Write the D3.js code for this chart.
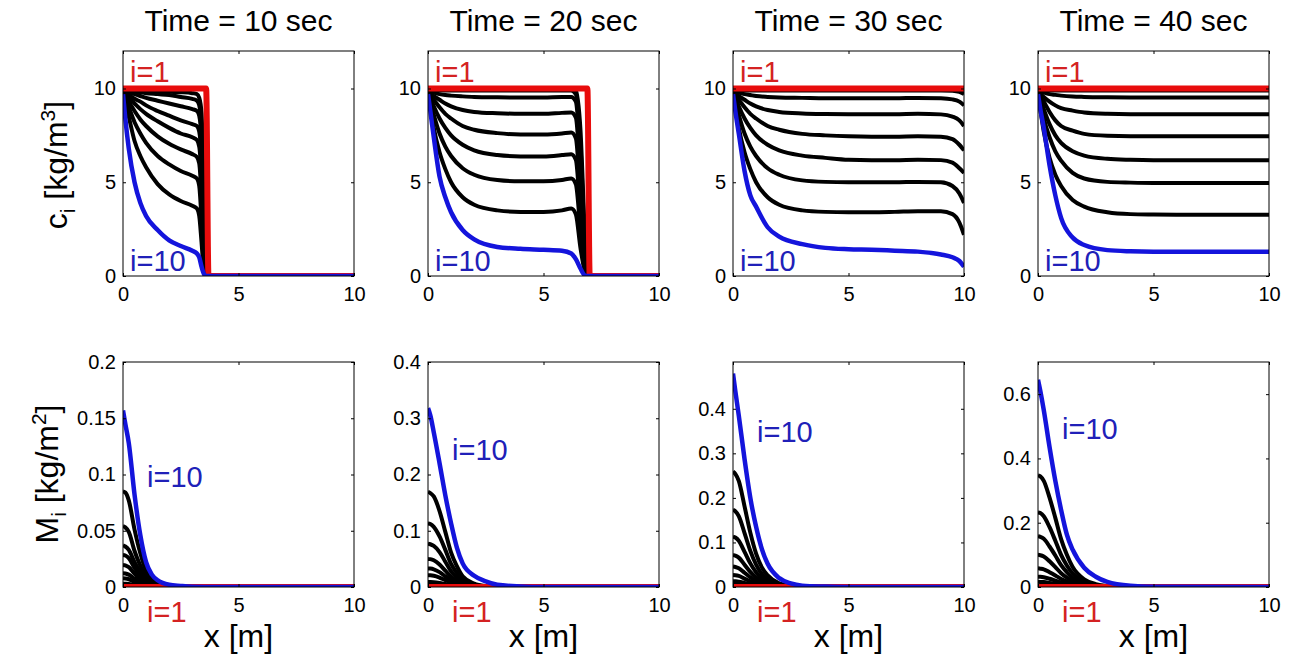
<!DOCTYPE html>
<html>
<head>
<meta charset="utf-8">
<script src="https://cdn.jsdelivr.net/npm/d3@7"></script>
<style>
  body { margin: 0; background: #fff; }
  svg { display: block; }
  text { font-family: "Liberation Sans", Arial, Helvetica, sans-serif; }
</style>
</head>
<body>
<svg id="chart" width="1293" height="655"></svg>
<script>
// titles and ticks
var titles = ["Time = 10 sec", "Time = 20 sec", "Time = 30 sec", "Time = 40 sec"];
var xTicks = [0, 5, 10];
var cTicks = [0, 5, 10];
var cMax = 12;
var mTicks = [[0, 0.05, 0.1, 0.15, 0.2], [0, 0.1, 0.2, 0.3, 0.4], [0, 0.1, 0.2, 0.3, 0.4], [0, 0.2, 0.4, 0.6]];
var mMax = [0.2, 0.4, 0.505, 0.7];

// concentration c_i, rows are i=1 (red) .. i=10 (blue)
var xC10 = [0, 0.1, 0.25, 0.5, 0.75, 1, 1.5, 2, 2.5, 3, 3.2, 3.3, 3.4, 3.5, 3.6, 3.7, 10];
var c10 = [
  [10, 10, 10, 10, 10, 10, 10, 10, 10, 10, 10, 10, 10, 10, 10, 0, 0],
  [9.9, 9.9, 9.9, 9.9, 9.9, 9.88, 9.85, 9.82, 9.8, 9.75, 9.7, 9.5, 8.7, 4.0, 0.2, 0, 0],
  [9.85, 9.85, 9.85, 9.8, 9.8, 9.75, 9.7, 9.65, 9.55, 9.45, 9.35, 9.1, 8.0, 3.0, 0.15, 0, 0],
  [9.8, 9.8, 9.75, 9.7, 9.6, 9.5, 9.35, 9.2, 9.05, 8.9, 8.8, 8.55, 7.2, 2.5, 0.1, 0, 0],
  [9.8, 9.75, 9.65, 9.45, 9.3, 9.1, 8.8, 8.55, 8.3, 8.1, 8.0, 7.7, 6.2, 2.0, 0.1, 0, 0],
  [9.8, 9.7, 9.5, 9.2, 8.9, 8.65, 8.25, 7.9, 7.6, 7.4, 7.25, 6.9, 5.2, 1.6, 0.05, 0, 0],
  [9.8, 9.6, 9.3, 8.8, 8.35, 8.0, 7.45, 7.05, 6.75, 6.5, 6.35, 6.0, 4.2, 1.2, 0.05, 0, 0],
  [9.8, 9.45, 9.0, 8.2, 7.6, 7.1, 6.4, 5.95, 5.6, 5.35, 5.2, 4.8, 3.0, 0.8, 0, 0, 0],
  [9.8, 9.3, 8.5, 7.2, 6.4, 5.8, 4.9, 4.35, 4.0, 3.75, 3.6, 3.2, 1.8, 0.3, 0, 0, 0],
  [9.7, 8.4, 6.8, 5.0, 3.9, 3.2, 2.45, 1.9, 1.6, 1.35, 1.2, 1.0, 0.5, 0.12, 0, 0, 0]
];

var xC20 = [0, 0.1, 0.25, 0.5, 0.75, 1, 1.5, 2, 3, 4, 5, 5.8, 6.2, 6.4, 6.6, 6.8, 6.9, 7.0, 10];
var c20 = [
  [10, 10, 10, 10, 10, 10, 10, 10, 10, 10, 10, 10, 10, 10, 10, 10, 10, 0, 0],
  [9.98, 9.98, 9.98, 9.98, 9.98, 9.98, 9.98, 9.98, 9.98, 9.98, 9.98, 9.98, 9.98, 9.9, 7.8, 2.0, 0.3, 0, 0],
  [9.9, 9.9, 9.9, 9.9, 9.9, 9.9, 9.9, 9.9, 9.9, 9.9, 9.9, 9.9, 9.9, 9.7, 7.0, 1.6, 0.25, 0, 0],
  [9.85, 9.82, 9.78, 9.7, 9.65, 9.62, 9.58, 9.55, 9.53, 9.52, 9.52, 9.55, 9.55, 9.3, 6.2, 1.3, 0.2, 0, 0],
  [9.8, 9.75, 9.6, 9.4, 9.2, 9.05, 8.85, 8.75, 8.68, 8.65, 8.65, 8.7, 8.72, 8.45, 5.2, 1.0, 0.15, 0, 0],
  [9.8, 9.65, 9.4, 9.0, 8.65, 8.4, 8.0, 7.8, 7.62, 7.55, 7.55, 7.6, 7.65, 7.35, 4.2, 0.8, 0.1, 0, 0],
  [9.8, 9.5, 9.05, 8.4, 7.9, 7.5, 7.0, 6.7, 6.45, 6.38, 6.38, 6.45, 6.5, 6.2, 3.3, 0.6, 0.05, 0, 0],
  [9.8, 9.3, 8.6, 7.6, 6.9, 6.4, 5.75, 5.4, 5.12, 5.05, 5.05, 5.12, 5.2, 4.9, 2.5, 0.4, 0, 0, 0],
  [9.8, 9.0, 7.9, 6.6, 5.7, 5.0, 4.2, 3.8, 3.5, 3.42, 3.42, 3.5, 3.6, 3.3, 1.5, 0.2, 0, 0, 0],
  [9.7, 8.8, 7.4, 5.3, 4.2, 3.4, 2.45, 1.95, 1.55, 1.45, 1.4, 1.35, 1.2, 0.9, 0.4, 0.02, 0, 0, 0]
];

var xC30 = [0, 0.1, 0.25, 0.5, 0.75, 1, 1.5, 2, 3, 4, 5, 6, 7, 8, 9, 9.5, 9.8, 10];
var c30 = [
  [10, 10, 10, 10, 10, 10, 10, 10, 10, 10, 10, 10, 10, 10, 10, 10, 10, 10],
  [9.98, 9.98, 9.98, 9.98, 9.98, 9.98, 9.98, 9.98, 9.98, 9.98, 9.98, 9.98, 9.98, 9.98, 9.98, 9.98, 9.95, 9.9],
  [9.9, 9.9, 9.9, 9.9, 9.9, 9.9, 9.9, 9.9, 9.9, 9.9, 9.9, 9.9, 9.9, 9.9, 9.9, 9.88, 9.82, 9.7],
  [9.85, 9.82, 9.78, 9.7, 9.65, 9.6, 9.55, 9.52, 9.5, 9.48, 9.48, 9.48, 9.48, 9.5, 9.48, 9.42, 9.3, 9.1],
  [9.8, 9.75, 9.6, 9.4, 9.2, 9.05, 8.85, 8.75, 8.67, 8.64, 8.63, 8.63, 8.63, 8.65, 8.62, 8.5, 8.3, 8.0],
  [9.8, 9.65, 9.4, 9.0, 8.65, 8.4, 8.0, 7.8, 7.58, 7.5, 7.45, 7.43, 7.43, 7.45, 7.43, 7.3, 7.0, 6.7],
  [9.8, 9.5, 9.05, 8.4, 7.9, 7.5, 7.0, 6.7, 6.42, 6.3, 6.2, 6.18, 6.18, 6.2, 6.18, 6.05, 5.75, 5.5],
  [9.8, 9.3, 8.6, 7.6, 6.9, 6.4, 5.75, 5.4, 5.1, 5.02, 5.0, 5.0, 5.0, 5.02, 5.0, 4.8, 4.4, 3.9],
  [9.8, 9.0, 7.9, 6.6, 5.7, 5.0, 4.2, 3.8, 3.5, 3.42, 3.4, 3.4, 3.42, 3.45, 3.45, 3.3, 2.85, 2.2],
  [9.7, 8.8, 7.6, 5.6, 4.3, 3.7, 2.6, 2.1, 1.7, 1.5, 1.43, 1.4, 1.35, 1.3, 1.15, 1.0, 0.8, 0.5]
];

var xC40 = [0, 0.1, 0.25, 0.5, 0.75, 1, 1.5, 2, 3, 4, 5, 6, 8, 10];
var c40 = [
  [10, 10, 10, 10, 10, 10, 10, 10, 10, 10, 10, 10, 10, 10],
  [9.98, 9.98, 9.98, 9.98, 9.98, 9.98, 9.98, 9.98, 9.98, 9.98, 9.98, 9.98, 9.98, 9.98],
  [9.9, 9.9, 9.9, 9.9, 9.9, 9.9, 9.9, 9.9, 9.9, 9.9, 9.9, 9.9, 9.9, 9.9],
  [9.85, 9.82, 9.78, 9.7, 9.66, 9.62, 9.57, 9.55, 9.53, 9.52, 9.52, 9.52, 9.52, 9.52],
  [9.8, 9.72, 9.55, 9.3, 9.1, 8.95, 8.82, 8.72, 8.65, 8.63, 8.63, 8.63, 8.63, 8.63],
  [9.8, 9.6, 9.3, 8.75, 8.3, 8.0, 7.75, 7.58, 7.48, 7.46, 7.46, 7.46, 7.46, 7.46],
  [9.8, 9.45, 8.9, 8.1, 7.5, 7.1, 6.65, 6.42, 6.25, 6.2, 6.18, 6.18, 6.18, 6.18],
  [9.8, 9.2, 8.4, 7.4, 6.65, 6.15, 5.5, 5.2, 5.02, 4.98, 4.96, 4.96, 4.96, 4.96],
  [9.8, 8.9, 7.7, 6.3, 5.4, 4.8, 4.05, 3.7, 3.4, 3.3, 3.28, 3.27, 3.27, 3.27],
  [9.7, 8.9, 7.9, 5.9, 4.3, 3.1, 2.05, 1.65, 1.38, 1.32, 1.3, 1.3, 1.3, 1.3]
];

// mass M_i, same row order, shared x grid
var xM = [0, 0.1, 0.25, 0.5, 0.75, 1, 1.25, 1.5, 2, 2.5, 3, 4, 5, 10];
var m10 = [
  [0, 0, 0, 0, 0, 0, 0, 0, 0, 0, 0, 0, 0, 0],
  [0.003, 0.0029, 0.0027, 0.0018, 0.0011, 0.0005, 0.0003, 0.0001, 0, 0, 0, 0, 0, 0],
  [0.0077, 0.0075, 0.0069, 0.0046, 0.0027, 0.0013, 0.0007, 0.0004, 0.0001, 0, 0, 0, 0, 0],
  [0.0122, 0.012, 0.011, 0.0073, 0.0043, 0.0021, 0.0011, 0.0006, 0.0002, 0, 0, 0, 0, 0],
  [0.0196, 0.0192, 0.0176, 0.0118, 0.0069, 0.0033, 0.0018, 0.001, 0.0003, 0, 0, 0, 0, 0],
  [0.0285, 0.028, 0.0256, 0.017, 0.01, 0.0048, 0.0026, 0.0014, 0.0004, 0, 0, 0, 0, 0],
  [0.037, 0.036, 0.033, 0.022, 0.013, 0.0063, 0.0033, 0.0018, 0.0006, 0.0001, 0, 0, 0, 0],
  [0.054, 0.053, 0.049, 0.032, 0.019, 0.0092, 0.0049, 0.0027, 0.0008, 0.0002, 0, 0, 0, 0],
  [0.085, 0.084, 0.077, 0.051, 0.03, 0.0145, 0.0077, 0.0043, 0.0013, 0.0003, 0, 0, 0, 0],
  [0.157, 0.145, 0.128, 0.082, 0.046, 0.022, 0.011, 0.006, 0.002, 0.001, 0.0003, 0, 0, 0]
];
var m20 = [
  [0, 0, 0, 0, 0, 0, 0, 0, 0, 0, 0, 0, 0, 0],
  [0.003, 0.003, 0.0029, 0.0024, 0.0017, 0.0011, 0.0007, 0.0003, 0.0001, 0, 0, 0, 0, 0],
  [0.009, 0.0089, 0.0086, 0.0072, 0.0052, 0.0032, 0.002, 0.001, 0.0003, 0.0001, 0, 0, 0, 0],
  [0.021, 0.0208, 0.02, 0.0168, 0.0122, 0.0076, 0.0046, 0.0023, 0.0007, 0.0002, 0, 0, 0, 0],
  [0.033, 0.0327, 0.0314, 0.0264, 0.019, 0.0119, 0.0073, 0.0036, 0.0012, 0.0003, 0.0001, 0, 0, 0],
  [0.05, 0.0495, 0.0475, 0.04, 0.029, 0.018, 0.011, 0.0055, 0.0018, 0.0005, 0.0001, 0, 0, 0],
  [0.077, 0.076, 0.073, 0.062, 0.045, 0.028, 0.017, 0.0085, 0.0027, 0.0008, 0.0002, 0, 0, 0],
  [0.113, 0.112, 0.107, 0.09, 0.066, 0.041, 0.025, 0.0124, 0.004, 0.0011, 0.0003, 0, 0, 0],
  [0.169, 0.167, 0.161, 0.135, 0.098, 0.061, 0.037, 0.019, 0.006, 0.0017, 0.0005, 0, 0, 0],
  [0.318, 0.305, 0.275, 0.22, 0.163, 0.113, 0.07, 0.042, 0.02, 0.01, 0.004, 0.001, 0, 0]
];
var m30 = [
  [0, 0, 0, 0, 0, 0, 0, 0, 0, 0, 0, 0, 0, 0],
  [0.005, 0.0049, 0.0046, 0.0035, 0.0024, 0.0015, 0.0009, 0.0005, 0.0002, 0, 0, 0, 0, 0],
  [0.013, 0.0127, 0.012, 0.0091, 0.0061, 0.0038, 0.0022, 0.0013, 0.0004, 0.0001, 0, 0, 0, 0],
  [0.027, 0.0265, 0.0248, 0.0189, 0.0127, 0.0078, 0.0046, 0.0027, 0.0008, 0.0003, 0, 0, 0, 0],
  [0.046, 0.045, 0.042, 0.032, 0.0216, 0.0133, 0.0078, 0.0046, 0.0014, 0.0005, 0.0001, 0, 0, 0],
  [0.072, 0.0705, 0.066, 0.05, 0.034, 0.021, 0.012, 0.0072, 0.0022, 0.0007, 0.0002, 0, 0, 0],
  [0.113, 0.111, 0.104, 0.079, 0.053, 0.033, 0.019, 0.011, 0.0034, 0.0011, 0.0003, 0, 0, 0],
  [0.173, 0.17, 0.159, 0.121, 0.081, 0.05, 0.029, 0.017, 0.005, 0.0017, 0.0005, 0, 0, 0],
  [0.259, 0.254, 0.238, 0.181, 0.122, 0.075, 0.044, 0.026, 0.008, 0.0026, 0.0008, 0, 0, 0],
  [0.479, 0.44, 0.385, 0.287, 0.2, 0.135, 0.085, 0.052, 0.02, 0.008, 0.003, 0.001, 0, 0]
];
var m40 = [
  [0, 0, 0, 0, 0, 0, 0, 0, 0, 0, 0, 0, 0, 0],
  [0.005, 0.005, 0.0048, 0.004, 0.0031, 0.0022, 0.0015, 0.0009, 0.0004, 0.0001, 0, 0, 0, 0],
  [0.016, 0.0158, 0.0152, 0.0128, 0.0099, 0.0069, 0.0046, 0.0029, 0.0011, 0.0004, 0.0002, 0, 0, 0],
  [0.032, 0.0317, 0.0304, 0.0256, 0.0198, 0.0138, 0.0093, 0.0058, 0.0022, 0.0008, 0.0003, 0, 0, 0],
  [0.058, 0.057, 0.055, 0.046, 0.036, 0.025, 0.017, 0.0104, 0.0041, 0.0015, 0.0006, 0.0001, 0, 0],
  [0.1, 0.099, 0.095, 0.08, 0.062, 0.043, 0.029, 0.018, 0.007, 0.0025, 0.001, 0.0002, 0, 0],
  [0.158, 0.156, 0.15, 0.126, 0.098, 0.068, 0.046, 0.028, 0.011, 0.004, 0.0016, 0.0003, 0, 0],
  [0.232, 0.23, 0.22, 0.186, 0.144, 0.1, 0.067, 0.042, 0.016, 0.006, 0.0023, 0.0005, 0, 0],
  [0.347, 0.344, 0.33, 0.278, 0.215, 0.149, 0.1, 0.062, 0.024, 0.009, 0.0035, 0.0007, 0, 0],
  [0.645, 0.61, 0.55, 0.435, 0.33, 0.24, 0.163, 0.116, 0.06, 0.032, 0.016, 0.004, 0.001, 0]
];

var cGrids = [xC10, xC20, xC30, xC40];
var cSets = [c10, c20, c30, c40];
var mSets = [m10, m20, m30, m40];

// layout
var W = 231, H = 225;
var colX = [123, 428, 733, 1038];
var rowY = [51, 362];
var RED = "#e80c0c", BLUE = "#1414dc";
var RED_TXT = "#d42222", BLUE_TXT = "#2020b8";
var FONT = "'Liberation Sans', Arial, Helvetica, sans-serif";

var svg = d3.select("#chart");

function drawPanel(col, row, xs, series, yMax, yTicks) {
  var x = d3.scaleLinear().domain([0, 10]).range([0, W]);
  var y = d3.scaleLinear().domain([0, yMax]).range([H, 0]);
  var g = svg.append("g").attr("transform", "translate(" + colX[col] + "," + rowY[row] + ")");

  var clipId = "clip" + row + col;
  g.append("clipPath").attr("id", clipId)
    .append("rect").attr("width", W).attr("height", H);
  var plot = g.append("g").attr("clip-path", "url(#" + clipId + ")");

  var line = d3.line()
    .x(function (d) { return x(d[0]); })
    .y(function (d) { return y(d[1]); })
    .curve(d3.curveMonotoneX);

  var curves = series.map(function (s) {
    return xs.map(function (xv, k) { return [xv, s[k]]; });
  });

  // black i=2..9 first, then red i=1, blue i=10 on top
  plot.selectAll("path.mid")
    .data(curves.slice(1, 9))
    .enter()
    .append("path")
    .attr("class", "mid")
    .attr("d", line)
    .attr("fill", "none")
    .attr("stroke", "#000")
    .attr("stroke-width", 4)
    .attr("stroke-linejoin", "round");

  plot.append("path").datum(curves[0])
    .attr("d", line).attr("fill", "none")
    .attr("stroke", RED).attr("stroke-width", 6).attr("stroke-linejoin", "round");

  plot.append("path").datum(curves[9])
    .attr("d", line).attr("fill", "none")
    .attr("stroke", BLUE).attr("stroke-width", 4.5).attr("stroke-linejoin", "round");

  g.append("rect")
    .attr("width", W).attr("height", H)
    .attr("fill", "none").attr("stroke", "#000").attr("stroke-width", 1);

  // ticks inside the box, labels outside
  var bottom = g.append("g").attr("transform", "translate(0," + H + ")")
    .call(d3.axisBottom(x).tickValues(xTicks).tickSize(-3).tickFormat(function (d) { return d; }));
  bottom.selectAll("text").attr("y", 25).attr("dy", null);

  g.append("g")
    .call(d3.axisTop(x).tickValues(xTicks).tickSize(-3).tickFormat(""));

  g.append("g")
    .call(d3.axisLeft(y).tickValues(yTicks).tickSize(-3).tickPadding(7).tickFormat(function (d) { return d; }));

  g.append("g").attr("transform", "translate(" + W + ",0)")
    .call(d3.axisRight(y).tickValues(yTicks).tickSize(-3).tickFormat(""));

  g.selectAll(".domain").remove();
  g.selectAll(".tick line").attr("stroke", "#000");
  g.selectAll(".tick text").attr("font-size", 20).attr("font-family", FONT).attr("fill", "#000");

  return { g: g, x: x, y: y };
}

for (var c = 0; c < 4; c++) {
  var upper = drawPanel(c, 0, cGrids[c], cSets[c], cMax, cTicks);
  var lower = drawPanel(c, 1, xM, mSets[c], mMax[c], mTicks[c]);

  svg.append("text")
    .attr("x", colX[c] + W / 2).attr("y", 31)
    .attr("text-anchor", "middle")
    .attr("font-size", 30)
    .text(titles[c]);

  upper.g.append("text").attr("x", 7).attr("y", 31)
    .attr("font-size", 29).attr("fill", RED_TXT).text("i=1");
  upper.g.append("text").attr("x", 7).attr("y", 220)
    .attr("font-size", 29).attr("fill", BLUE_TXT).text("i=10");

  lower.g.append("text").attr("x", 24).attr("y", 260)
    .attr("font-size", 29).attr("fill", RED_TXT).text("i=1");
  lower.g.append("text").attr("x", 24).attr("y", [125, 98, 80, 77][c])
    .attr("font-size", 29).attr("fill", BLUE_TXT).text("i=10");

  svg.append("text")
    .attr("x", colX[c] + W / 2).attr("y", 647)
    .attr("text-anchor", "middle")
    .attr("font-size", 32)
    .text("x [m]");
}

// y labels with sub/superscripts
var yl1 = svg.append("text")
  .attr("transform", "translate(67,165) rotate(-90)")
  .attr("text-anchor", "middle").attr("font-size", 32);
yl1.append("tspan").text("c");
yl1.append("tspan").text("i").attr("font-size", 21).attr("dy", 8);
yl1.append("tspan").text(" [kg/m").attr("dy", -8);
yl1.append("tspan").text("3").attr("font-size", 21).attr("dy", -12);
yl1.append("tspan").text("]").attr("dy", 12);

var yl2 = svg.append("text")
  .attr("transform", "translate(58,474) rotate(-90)")
  .attr("text-anchor", "middle").attr("font-size", 32);
yl2.append("tspan").text("M");
yl2.append("tspan").text("i").attr("font-size", 21).attr("dy", 8);
yl2.append("tspan").text(" [kg/m").attr("dy", -8);
yl2.append("tspan").text("2").attr("font-size", 21).attr("dy", -12);
yl2.append("tspan").text("]").attr("dy", 12);
</script>
</body>
</html>
